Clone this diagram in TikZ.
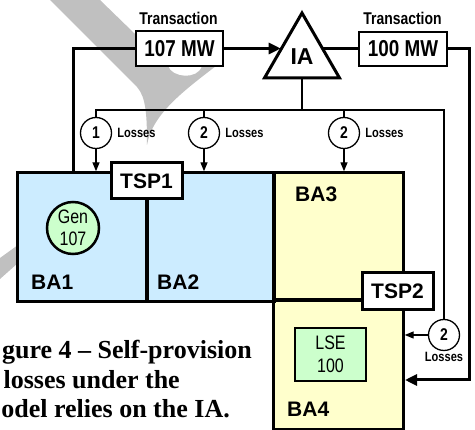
\documentclass[tikz,border=0pt]{standalone}
\usepackage{fontspec}
\setmainfont{Liberation Sans}
\newfontfamily\narrowfont[FakeStretch=0.82]{Liberation Sans}
\newfontfamily\captionfont{Liberation Serif}
\usetikzlibrary{arrows.meta,shapes.geometric,calc}
\definecolor{bablue}{RGB}{204,236,255}
\definecolor{bayel}{RGB}{255,255,204}
\definecolor{gengreen}{RGB}{204,255,204}
\definecolor{wmgray}{RGB}{192,192,192}
\begin{document}
\begin{tikzpicture}[x=1pt,y=-1pt,
  thickln/.style={line width=3pt},
  thinln/.style={line width=1.3pt},
  bigtip/.style={-{Triangle[length=12pt,width=11pt]}},
  smalltip/.style={-{Triangle[length=9pt,width=7pt]}},
  mwbox/.style={draw,fill=white,line width=1.3pt,minimum width=87pt,minimum height=35pt,inner sep=0pt,font=\narrowfont\bfseries\fontsize{23}{26}\selectfont},
  trlbl/.style={inner sep=0pt,anchor=base,font=\narrowfont\bfseries\fontsize{17}{20}\selectfont},
  lossc/.style={circle,draw,fill=white,line width=1.3pt,minimum size=31pt,inner sep=0pt,font=\narrowfont\bfseries\fontsize{17}{20}\selectfont},
  losslbl/.style={inner sep=0pt,font=\narrowfont\bfseries\fontsize{13.5}{15}\selectfont},
  bafill/.style={inner sep=0pt,draw=none},
  baedge/.style={line width=2.8pt},
  balbl/.style={inner sep=0pt,anchor=base west,font=\bfseries\fontsize{21}{24}\selectfont},
  tspbox/.style={draw,fill=white,line width=3pt,minimum width=71pt,minimum height=36pt,inner sep=0pt,font=\bfseries\fontsize{21}{24}\selectfont},
  greenbox/.style={draw,fill=gengreen,line width=2.5pt,inner sep=0pt,align=center,font=\narrowfont\fontsize{19.5}{22.5}\selectfont},
  captxt/.style={inner sep=0pt,anchor=base east,font=\captionfont\bfseries\fontsize{26}{30}\selectfont}
]
\useasboundingbox (0,0) rectangle (475,430);
% faint grey background marks
\fill[wmgray] (50,0) -- (100,0) -- (168,66) .. controls (172,78) and (198,80) .. (202,66)
  -- (216,66) .. controls (182,92) and (152,115) .. (147,145)
  .. controls (147,115) and (146,97) .. (137,87) -- cycle;
\fill[wmgray] (0,258) -- (18,245) -- (18,263) -- (0,279) -- cycle;

% balancing areas
\node[bafill,fill=bablue,minimum width=129pt,minimum height=128pt] (ba1) at (82.5,237) {};
\node[bafill,fill=bablue,minimum width=127pt,minimum height=128pt] (ba2) at (210.5,237) {};
\node[bafill,fill=bayel,minimum width=129pt,minimum height=127pt] (ba3) at (338.5,236.5) {};
\node[bafill,fill=bayel,minimum width=129pt,minimum height=129pt] (ba4) at (338.5,364.5) {};
\foreach \b in {ba1,ba2,ba3,ba4}
  \draw[baedge] (\b.north west) rectangle (\b.south east);

\node[balbl] (n1) at (31,290) {BA1};
\node[balbl] (n2) at (157,290) {BA2};
\node[balbl] (n3) at (295,202) {BA3};
\node[balbl] (n4) at (287,417) {BA4};

\node[circle,greenbox,minimum size=52pt] (gen) at (73,228) {Gen\\107};
\node[greenbox,minimum width=71pt,minimum height=53pt] (lse) at (330.5,354.5) {LSE\\100};

\node[tspbox] (tsp1) at (146.5,181) {TSP1};
\node[tspbox,minimum height=37pt] (tsp2) at (397.5,291.5) {TSP2};

% transactions and IA
\node[trlbl] (tr1) at (178.5,25) {Transaction};
\node[trlbl] (tr2) at (402.5,25) {Transaction};
\node[mwbox] (mw107) at (179.5,48.5) {107 MW};
\node[mwbox,minimum width=88pt,minimum height=34pt] (mw100) at (403,49) {100 MW};
\node[draw,regular polygon,regular polygon sides=3,minimum size=86.6pt,inner sep=0pt,
      line width=3pt,font=\bfseries\fontsize{23}{26}\selectfont] (ia) at (302,56.3) {IA};

\coordinate (iaL) at ($(ia.corner 1)!0.53!(ia.corner 2)$);
\coordinate (iaR) at ($(ia.corner 1)!0.53!(ia.corner 3)$);
\coordinate (j1) at (73,173);
\coordinate (c1) at (469,380);
\coordinate (k4) at (405,380);

\draw[thickln] (mw107.west) -| (j1);
\draw[thickln,bigtip] (mw107.east) -- (mw107.east -| iaL);
\draw[thickln] (mw100.west -| iaR) -- (mw100.west);
\draw[thickln,bigtip] (mw100.east) -| (c1) -- (k4);

% losses
\node[lossc] (l1) at (96,133) {1};
\node[lossc] (l2) at (204,133) {2};
\node[lossc] (l3) at (344,133) {2};
\node[lossc] (l4) at (444,335) {2};
\node[losslbl,anchor=west] (t1) at ($(l1.east)+(5,0)$) {Losses};
\node[losslbl,anchor=west] (t2) at ($(l2.east)+(5,0)$) {Losses};
\node[losslbl,anchor=west] (t3) at ($(l3.east)+(5,0)$) {Losses};
\node[losslbl,anchor=north] (t4) at ($(l4.south)+(0,1)$) {Losses};

\coordinate (b1) at (96,110);
\coordinate (b4) at (444,110);
\draw[thinln] (l1.north) -- (b1) -- (b4) -- (l4.north);
\draw[thinln] (l2.north) -- (l2 |- b1);
\draw[thinln] (l3.north) -- (l3 |- b1);
\draw[thinln] (ia.south) -- (ia.south |- b1);
\draw[thinln,smalltip,shorten >=1.5pt] (l1.south) -- (l1 |- ba1.north);
\draw[thinln,smalltip,shorten >=1.5pt] (l2.south) -- (l2 |- ba2.north);
\draw[thinln,smalltip,shorten >=1.5pt] (l3.south) -- (l3 |- ba3.north);
\draw[thinln,smalltip,shorten >=1.5pt] (l4.west) -- (l4 -| ba4.east);

% caption fragment
\node[captxt] (cap1) at (252,359) {gure 4 – Self-provision};
\node[captxt] (cap2) at (180,389) {losses under the};
\node[captxt] (cap3) at (230,418) {odel relies on the IA.};
\end{tikzpicture}
\end{document}
